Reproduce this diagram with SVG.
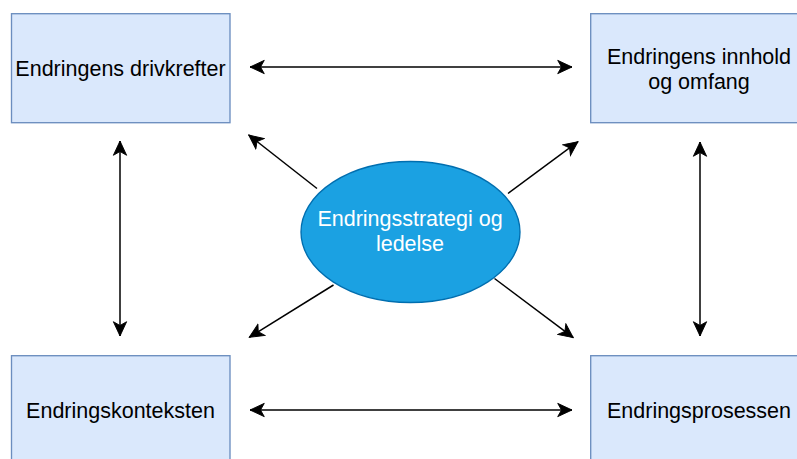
<svg xmlns="http://www.w3.org/2000/svg" width="797" height="459" viewBox="0 0 797 459">
  <defs>
    <marker id="arr" markerUnits="userSpaceOnUse" markerWidth="16" markerHeight="16" viewBox="-13 -7 14 14" refX="0" refY="0" orient="auto-start-reverse">
      <path d="M0,0 L-12.5,-5.8 L-9.2,0 L-12.5,5.8 Z" fill="#000" stroke="#000" stroke-width="0.8" stroke-linejoin="miter"/>
    </marker>
    <style>
      .box { fill: #dae8fc; stroke: #6c8ebf; stroke-width: 1.35; }
      .lbl { font-family: "Liberation Sans", Arial, Helvetica, sans-serif; font-size: 21.5px; fill: #000; text-anchor: middle; }
      .wlbl { font-family: "Liberation Sans", Arial, Helvetica, sans-serif; font-size: 21.5px; fill: #fff; text-anchor: middle; }
      .conn line { stroke: #000; stroke-width: 1.5; fill: none; }
    </style>
  </defs>
  <rect width="797" height="459" fill="#fff"/>

  <g id="connectors" class="conn">
    <line x1="250" y1="67" x2="572" y2="67" marker-start="url(#arr)" marker-end="url(#arr)"/>
    <line x1="250" y1="410" x2="572" y2="410" marker-start="url(#arr)" marker-end="url(#arr)"/>
    <line x1="120" y1="141" x2="120" y2="336" marker-start="url(#arr)" marker-end="url(#arr)"/>
    <line x1="700" y1="142" x2="700" y2="336" marker-start="url(#arr)" marker-end="url(#arr)"/>
    <line x1="317" y1="188.5" x2="248.7" y2="135" marker-end="url(#arr)"/>
    <line x1="508" y1="193.5" x2="578" y2="141.7" marker-end="url(#arr)"/>
    <line x1="333.5" y1="285" x2="249.3" y2="337.3" marker-end="url(#arr)"/>
    <line x1="494.5" y1="278.5" x2="573.3" y2="337.7" marker-end="url(#arr)"/>
  </g>

  <g id="node-drivkrefter">
    <rect class="box" x="11.5" y="13.7" width="218.5" height="109"/>
    <text class="lbl" x="120.5" y="75.8">Endringens drivkrefter</text>
  </g>
  <g id="node-innhold">
    <rect class="box" x="590.7" y="13.7" width="218.5" height="109"/>
    <text class="lbl" x="699" y="63.5">Endringens innhold</text>
    <text class="lbl" x="699" y="88.5">og omfang</text>
  </g>
  <g id="node-kontekst">
    <rect class="box" x="11.5" y="355.7" width="218.5" height="109"/>
    <text class="lbl" x="120.5" y="417.5">Endringskonteksten</text>
  </g>
  <g id="node-prosess">
    <rect class="box" x="590.7" y="355.7" width="218.5" height="109"/>
    <text class="lbl" x="699" y="417.5">Endringsprosessen</text>
  </g>
  <g id="node-strategi">
    <ellipse cx="410.5" cy="232" rx="109.5" ry="70.5" fill="#1ba1e2" stroke="#006eaf" stroke-width="1.35"/>
    <text class="wlbl" x="410" y="225.5">Endringsstrategi og</text>
    <text class="wlbl" x="410" y="251">ledelse</text>
  </g>
</svg>
